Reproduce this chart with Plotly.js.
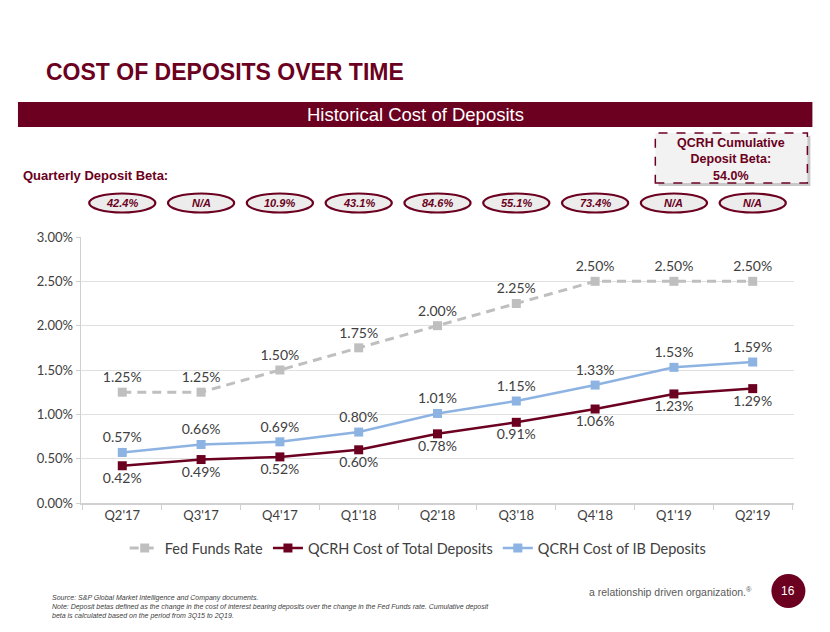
<!DOCTYPE html>
<html><head><meta charset="utf-8">
<script src="https://cdn.plot.ly/plotly-3.0.1.min.js"></script>
<style>html,body{margin:0;padding:0;background:#fff;}#chart{width:830px;height:632px;}</style>
</head><body><div id="chart"></div>
<script>
const quarters = ["Q2'17","Q3'17","Q4'17","Q1'18","Q2'18","Q3'18","Q4'18","Q1'19","Q2'19"];
const fedFunds = [1.25,1.25,1.50,1.75,2.00,2.25,2.50,2.50,2.50];
const totalDeposits = [0.42,0.49,0.52,0.60,0.78,0.91,1.06,1.23,1.29];
const ibDeposits = [0.57,0.66,0.69,0.80,1.01,1.15,1.33,1.53,1.59];
const betas = ["42.4%","N/A","10.9%","43.1%","84.6%","55.1%","73.4%","N/A","N/A"];
const yTicks = [0,0.5,1,1.5,2,2.5,3];

const MAROON = '#6b0020';
const L = 81, R = 793.6, T = 237, B = 503;
const px = x => (x - L) / (R - L);
const py = y => (B - y) / (B - T);
const fmt = v => v.toFixed(2) + '%';
const labelFont = {family: 'Lato, "Open Sans", sans-serif', size: 14, color: '#404040'};

const traces = [
  {x: quarters, y: fedFunds, name: 'Fed Funds Rate', mode: 'lines+markers+text',
   line: {color: '#bfbfbf', width: 3, dash: '9px,6px'}, marker: {symbol: 'square', size: 9, color: '#bfbfbf'},
   text: fedFunds.map(fmt), textposition: 'top center', textfont: labelFont, cliponaxis: false},
  {x: quarters, y: totalDeposits, name: 'QCRH Cost of Total Deposits', mode: 'lines+markers+text',
   line: {color: MAROON, width: 2.5}, marker: {symbol: 'square', size: 9, color: MAROON},
   text: totalDeposits.map(fmt), textposition: 'bottom center', textfont: labelFont, cliponaxis: false},
  {x: quarters, y: ibDeposits, name: 'QCRH Cost of IB Deposits', mode: 'lines+markers+text',
   line: {color: '#8db3e2', width: 2.5}, marker: {symbol: 'square', size: 9, color: '#8db3e2'},
   text: ibDeposits.map(fmt), textposition: 'top center', textfont: labelFont, cliponaxis: false}
];

const shapes = [
  {type: 'rect', xref: 'paper', yref: 'paper', x0: px(18), x1: px(812), y0: py(127), y1: py(102),
   fillcolor: MAROON, line: {width: 0}, layer: 'above'},
  {type: 'rect', xref: 'paper', yref: 'paper', x0: px(658), x1: px(810), y0: py(186), y1: py(136),
   fillcolor: '#c8c8c8', line: {width: 0}, layer: 'above'},
  {type: 'rect', xref: 'paper', yref: 'paper', x0: px(655), x1: px(807), y0: py(183), y1: py(133),
   fillcolor: '#f2f2f2', line: {color: MAROON, width: 1.5, dash: 'dash'}, layer: 'above'},
  {type: 'circle', xref: 'paper', yref: 'paper', x0: px(771), x1: px(805), y0: py(608), y1: py(574),
   fillcolor: MAROON, line: {width: 0}, layer: 'above'}
];
betas.forEach((b, i) => {
  shapes.push({type: 'circle', xref: 'x', yref: 'paper', x0: i - 0.42, x1: i + 0.42, y0: py(212.5), y1: py(193.5),
    fillcolor: '#ececec', line: {color: MAROON, width: 2.2}, layer: 'above'});
});

const annotations = [
  {text: '<b>COST OF DEPOSITS OVER TIME</b>', xref: 'paper', yref: 'paper', x: px(44), y: py(72),
   xanchor: 'left', yanchor: 'middle', showarrow: false,
   font: {family: '"Liberation Sans", Arial, sans-serif', size: 23, color: MAROON}},
  {text: 'Historical Cost of Deposits', xref: 'paper', yref: 'paper', x: px(415), y: py(115),
   xanchor: 'center', yanchor: 'middle', showarrow: false,
   font: {family: '"Liberation Sans", Arial, sans-serif', size: 18.5, color: '#ffffff'}},
  {text: '<b>Quarterly Deposit Beta:</b>', xref: 'paper', yref: 'paper', x: px(21), y: py(175),
   xanchor: 'left', yanchor: 'middle', showarrow: false,
   font: {family: '"Liberation Sans", Arial, sans-serif', size: 13, color: MAROON}},
  {text: '<b>QCRH Cumulative<br>Deposit Beta:<br>54.0%</b>', xref: 'paper', yref: 'paper', x: px(731), y: py(159),
   xanchor: 'center', yanchor: 'middle', showarrow: false, align: 'center',
   font: {family: '"Liberation Sans", Arial, sans-serif', size: 12.5, color: MAROON}},
  {text: 'a relationship driven organization.<sup>®</sup>', xref: 'paper', yref: 'paper', x: px(754), y: py(591),
   xanchor: 'right', yanchor: 'middle', showarrow: false,
   font: {family: '"Liberation Sans", Arial, sans-serif', size: 10.5, color: '#595959'}},
  {text: '16', xref: 'paper', yref: 'paper', x: px(788), y: py(591),
   xanchor: 'center', yanchor: 'middle', showarrow: false,
   font: {family: '"Liberation Sans", Arial, sans-serif', size: 12, color: '#ffffff'}},
  {text: '<i>Source: S&amp;P Global Market Intelligence and Company documents.<br>Note: Deposit betas defined as the change in the cost of interest bearing deposits over the change in the Fed Funds rate. Cumulative deposit<br>beta is calculated based on the period from 3Q15 to 2Q19.</i>',
   xref: 'paper', yref: 'paper', x: px(50), y: py(592), xanchor: 'left', yanchor: 'top', showarrow: false, align: 'left',
   font: {family: '"Liberation Sans", Arial, sans-serif', size: 7, color: '#404040'}}
];
betas.forEach((b, i) => {
  annotations.push({text: '<b><i>' + b + '</i></b>', xref: 'x', yref: 'paper', x: i, y: py(203),
    xanchor: 'center', yanchor: 'middle', showarrow: false,
    font: {family: '"Liberation Sans", Arial, sans-serif', size: 11, color: MAROON}});
});

const layout = {
  width: 830, height: 632,
  margin: {l: L, r: 830 - R, t: T, b: 632 - B, pad: 0},
  paper_bgcolor: '#ffffff', plot_bgcolor: '#ffffff',
  showlegend: true,
  legend: {orientation: 'h', x: px(418), xanchor: 'center', y: py(548), yanchor: 'middle',
    font: {family: 'Lato, "Open Sans", sans-serif', size: 14.5, color: '#404040'}, itemwidth: 30, tracegroupgap: 0},
  xaxis: {type: 'category', showgrid: false, showline: true, linecolor: '#d0d0d0', linewidth: 1.5,
    ticks: 'outside', tickson: 'boundaries', ticklen: 5, tickcolor: '#d0d0d0',
    tickfont: {family: 'Lato, "Open Sans", sans-serif', size: 13, color: '#404040'}, fixedrange: true},
  yaxis: {range: [0, 3], tickvals: yTicks, ticktext: yTicks.map(fmt), showgrid: true, gridcolor: '#e0e0e0', gridwidth: 1,
    showline: true, linecolor: '#d0d0d0', linewidth: 1.5, zeroline: false, ticks: 'outside', ticklen: 4, tickcolor: '#d0d0d0',
    tickfont: {family: 'Lato, "Open Sans", sans-serif', size: 13, color: '#404040'}, fixedrange: true},
  shapes: shapes, annotations: annotations
};
Plotly.newPlot('chart', traces, layout, {displayModeBar: false, staticPlot: true});
</script></body></html>
